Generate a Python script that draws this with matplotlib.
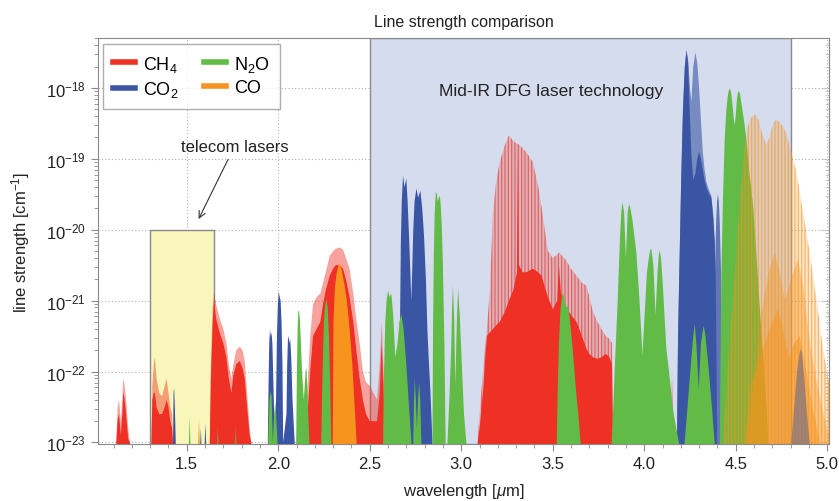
import numpy as np
import matplotlib
matplotlib.use("Agg")
import matplotlib.pyplot as plt
from matplotlib.lines import Line2D
from matplotlib.ticker import (FixedLocator, MultipleLocator, NullFormatter,
                               LogFormatterSciNotation)

plt.rcParams['font.family'] = ['Liberation Sans', 'DejaVu Sans']
plt.rcParams['mathtext.fontset'] = 'custom'
plt.rcParams['mathtext.rm'] = 'Liberation Sans'
plt.rcParams['mathtext.it'] = 'Liberation Sans:italic'
plt.rcParams['hatch.linewidth'] = 0.9

# band envelopes: wavelength [um] and log10(line strength)
# CH4 (hi = faint line tops, lo = dense core)
ch4_a_w = [1.115, 1.122, 1.13, 1.14, 1.148, 1.153, 1.158, 1.165, 1.172, 1.18, 1.19]
ch4_a_hi = [-23, -22.5, -22.4, -22.7, -22.4, -22.1, -22.15, -22.3, -22.5, -22.8, -23]
ch4_a_lo = [-23, -22.7, -22.6, -22.9, -22.6, -22.3, -22.35, -22.5, -22.7, -22.95, -23]
ch4_b_w = [1.307, 1.312, 1.32, 1.326, 1.335, 1.35, 1.365, 1.38, 1.39, 1.40, 1.41, 1.42, 1.425]
ch4_b_hi = [-23, -22.2, -21.9, -21.8, -22.1, -22.3, -22.35, -22.2, -22.1, -22.3, -22.5, -22.6, -23]
ch4_b_lo = [-23, -22.4, -22.3, -22.3, -22.5, -22.6, -22.6, -22.5, -22.4, -22.5, -22.7, -22.8, -23]
ch4_c_w = [1.626, 1.632, 1.642, 1.649, 1.66, 1.68, 1.70, 1.717, 1.73, 1.744, 1.755, 1.77,
           1.79, 1.805, 1.817, 1.83, 1.844, 1.853]
ch4_c_hi = [-23, -21.9, -21.1, -20.88, -21.05, -21.25, -21.4, -21.6, -21.9, -22.1, -21.9, -21.7,
            -21.65, -21.7, -21.85, -22.3, -22.8, -23]
ch4_c_lo = [-23, -22.1, -21.3, -21.0, -21.25, -21.45, -21.6, -21.8, -22.1, -22.3, -22.05, -21.9,
            -21.85, -21.95, -22.1, -22.5, -22.9, -23]
ch4_d_w = [2.145, 2.16, 2.175, 2.19, 2.21, 2.23, 2.245, 2.26, 2.281, 2.30, 2.314, 2.335, 2.354,
           2.37, 2.39, 2.41, 2.427, 2.445, 2.463, 2.48, 2.50, 2.52, 2.54, 2.555, 2.565, 2.575, 2.585]
ch4_d_hi = [-23, -22.2, -21.5, -21.05, -20.95, -20.9, -20.75, -20.6, -20.37, -20.3, -20.27, -20.25,
            -20.28, -20.4, -20.55, -20.9, -21.26, -21.6, -22.0, -22.15, -22.2, -22.3, -22.4, -21.9,
            -21.3, -21.9, -23]
ch4_d_lo = [-23, -22.6, -22.0, -21.5, -21.4, -21.3, -21.05, -20.85, -20.65, -20.55, -20.5, -20.5,
            -20.55, -20.7, -20.95, -21.3, -21.7, -22.1, -22.4, -22.6, -22.7, -22.7, -22.7, -22.3,
            -21.6, -22.2, -23]
ch4_e_w = [3.09, 3.10, 3.119, 3.14, 3.156, 3.174, 3.19, 3.21, 3.238, 3.261, 3.285, 3.305, 3.31,
           3.315, 3.335, 3.356, 3.392, 3.42, 3.44, 3.456, 3.474, 3.50, 3.525, 3.534, 3.545, 3.575,
           3.60, 3.63, 3.66, 3.684, 3.70, 3.72, 3.745, 3.766, 3.79, 3.81, 3.824, 3.83]
ch4_e_hi = [-23, -22.6, -22.0, -21.4, -20.88, -19.75, -19.35, -19.05, -18.81, -18.67, -18.75,
            -18.79, -18.79, -18.8, -18.85, -18.91, -19.05, -19.38, -19.7, -19.99, -20.3, -20.4,
            -20.35, -20.32, -20.35, -20.44, -20.55, -20.65, -20.75, -20.79, -20.95, -21.16, -21.3,
            -21.4, -21.5, -21.54, -21.6, -23]
ch4_e_lo = [-23, -22.8, -22.3, -21.5, -21.45, -21.4, -21.35, -21.3, -21.16, -21.0, -20.85, -20.6,
            -18.85, -20.5, -20.6, -20.6, -20.55, -20.6, -20.65, -20.8, -20.95, -21.12, -21.0, -20.5,
            -20.9, -21.1, -21.2, -21.3, -21.5, -21.68, -21.75, -21.8, -21.82, -21.8, -21.75, -21.8,
            -21.9, -23]
ch4_f_w = [4.148, 4.152, 4.156]
ch4_f_hi = [-23, -21.95, -23]
ch4_f_lo = [-23, -22.1, -23]

# CO2
co2_a_w = [1.425, 1.428, 1.431, 1.435, 1.44]
co2_a_s = [-23, -22.3, -22.23, -22.5, -23]
co2_b_w = [1.574, 1.577, 1.58]
co2_b_s = [-23, -22.8, -23]
co2_c_w = [1.598, 1.602, 1.606]
co2_c_s = [-23, -22.73, -23]
co2_d_w = [1.943, 1.947, 1.951, 1.955, 1.959, 1.963, 1.968, 1.974, 1.981, 1.988, 1.993, 1.998,
           2.003, 2.008, 2.013, 2.018, 2.023, 2.027, 2.045, 2.049, 2.053, 2.057, 2.062, 2.066,
           2.071, 2.078, 2.09]
co2_d_s = [-23, -22.2, -21.6, -21.4, -21.5, -21.45, -21.6, -22.2, -23, -22.4, -21.5, -21.05,
           -20.87, -20.95, -21.0, -21.3, -21.9, -23, -22.6, -21.9, -21.55, -21.5, -21.6, -21.55,
           -21.8, -22.4, -23]
co2_e_w = [2.660, 2.665, 2.670, 2.675, 2.682, 2.690, 2.700, 2.707, 2.715, 2.722, 2.727, 2.732,
           2.738, 2.745, 2.755, 2.765, 2.777, 2.787, 2.797, 2.807, 2.815, 2.822, 2.832, 2.843]
co2_e_s = [-23, -21.5, -20.2, -19.6, -19.24, -19.4, -19.28, -19.6, -20.1, -20.6, -21.0, -20.6,
           -20.0, -19.6, -19.42, -19.55, -19.45, -19.7, -20.1, -20.7, -21.4, -21.8, -22.3, -23]
co2_f_w = [4.179, 4.185, 4.195, 4.203, 4.212, 4.222, 4.231, 4.24, 4.25, 4.258, 4.268, 4.28,
           4.29, 4.30, 4.31, 4.32, 4.33, 4.34, 4.355, 4.367, 4.378, 4.386, 4.392, 4.398]
co2_f_hi = [-23, -21.5, -20.2, -19.2, -18.3, -17.7, -17.47, -17.6, -18.0, -18.2, -17.7, -17.5,
            -17.65, -18.0, -18.45, -18.9, -19.15, -19.33, -19.45, -19.52, -19.8, -20.2, -20.8, -23]
co2_f_lo = [-23, -21.5, -20.2, -19.2, -18.3, -17.7, -17.47, -17.65, -18.4, -18.95, -19.3, -19.2,
            -19.0, -18.9, -19.0, -19.15, -19.3, -19.4, -19.5, -19.55, -19.85, -20.2, -21.2, -23]
co2_g_w = [4.38, 4.387, 4.393, 4.398, 4.403, 4.408, 4.413, 4.42, 4.427]
co2_g_s = [-23, -20.6, -19.9, -19.6, -19.5, -19.6, -19.9, -20.6, -23]
co2_h_w = [4.804, 4.82, 4.835, 4.848, 4.855, 4.862, 4.875, 4.89, 4.904]
co2_h_s = [-23, -22.5, -22.0, -21.75, -21.68, -21.75, -22.1, -22.6, -23]

# N2O
n2o_a_w = [1.512, 1.516, 1.52]
n2o_a_s = [-23, -22.64, -23]
n2o_b_w = [1.667, 1.67, 1.673]
n2o_b_s = [-23, -22.77, -23]
n2o_c_w = [1.765, 1.768, 1.771]
n2o_c_s = [-23, -22.77, -23]
n2o_d_w = [1.945, 1.952, 1.958, 1.964, 1.97, 1.978, 1.983, 1.988, 1.996]
n2o_d_s = [-23, -22.4, -22.28, -22.35, -23, -22.6, -22.43, -22.6, -23]
n2o_e_w = [2.098, 2.102, 2.106, 2.110, 2.114, 2.118, 2.124, 2.13, 2.14, 2.147, 2.151, 2.155,
           2.16, 2.17]
n2o_e_s = [-23, -22.0, -21.4, -21.15, -21.14, -21.25, -21.6, -22.0, -22.4, -22.1, -21.98, -21.96,
           -22.3, -23]
n2o_f_w = [2.235, 2.242, 2.25, 2.257, 2.263, 2.27, 2.277, 2.284, 2.29]
n2o_f_s = [-23, -22.0, -21.3, -21.05, -20.98, -21.1, -21.5, -22.2, -23]
n2o_g_w = [2.573, 2.578, 2.585, 2.592, 2.60, 2.609, 2.618, 2.628, 2.64, 2.652, 2.662, 2.673,
           2.685, 2.70, 2.715, 2.728]
n2o_g_s = [-23, -22.0, -21.3, -21.0, -20.86, -20.95, -20.9, -21.2, -21.8, -21.6, -21.3, -21.19,
           -21.4, -21.9, -22.5, -23]
n2o_h_w = [2.738, 2.742, 2.746, 2.752, 2.758, 2.764, 2.77, 2.776, 2.782]
n2o_h_s = [-23, -22.4, -22.1, -22.4, -22.8, -22.4, -22.15, -22.4, -23]
n2o_i_w = [2.843, 2.846, 2.850, 2.855, 2.861, 2.867, 2.872, 2.878, 2.883, 2.888, 2.894, 2.90,
           2.908, 2.915]
n2o_i_s = [-23, -21.4, -20.4, -19.75, -19.47, -19.5, -19.6, -19.55, -19.52, -19.65, -19.95,
           -20.5, -21.6, -23]
n2o_j_w = [2.925, 2.935, 2.945, 2.950, 2.955, 2.962, 2.968, 2.976, 2.983, 2.992, 3.005, 3.015, 3.028]
n2o_j_s = [-23, -22.4, -21.7, -21.1, -20.79, -21.3, -22.2, -21.3, -20.83, -21.2, -22.0, -22.6, -23]
n2o_k_w = [3.522, 3.527, 3.534, 3.542, 3.55, 3.556, 3.565, 3.575, 3.584, 3.595, 3.61, 3.625,
           3.64, 3.652]
n2o_k_s = [-23, -22.3, -21.6, -21.15, -20.95, -20.88, -21.0, -21.1, -21.07, -21.3, -21.7, -22.2,
           -22.6, -23]
n2o_l_w = [3.822, 3.828, 3.84, 3.855, 3.868, 3.875, 3.881, 3.89, 3.90, 3.91, 3.915, 3.921, 3.935,
           3.957, 3.972, 3.985, 3.99, 4.0, 4.015, 4.028, 4.034, 4.039, 4.05, 4.062, 4.073, 4.08,
           4.085, 4.092, 4.10, 4.121, 4.14, 4.157, 4.175, 4.19]
n2o_l_s = [-23, -22.67, -21.9, -21.0, -20.1, -19.75, -19.61, -19.75, -20.4, -19.75, -19.67, -19.65,
           -19.85, -20.32, -20.9, -21.49, -21.78, -21.3, -20.6, -20.35, -20.28, -20.27, -20.5, -21.2,
           -20.6, -20.35, -20.29, -20.4, -20.7, -21.68, -22.1, -22.53, -22.8, -23]
n2o_m_w = [4.221, 4.24, 4.255, 4.268, 4.276, 4.285, 4.298, 4.31, 4.325, 4.335, 4.35, 4.37, 4.385]
n2o_m_s = [-23, -22.4, -21.9, -21.5, -21.33, -21.6, -22.25, -21.6, -21.35, -21.5, -21.9, -22.5, -23]
n2o_n_w = [4.413, 4.418, 4.422, 4.43, 4.44, 4.448, 4.455, 4.462, 4.467, 4.474, 4.481, 4.489,
           4.494, 4.50, 4.507, 4.512, 4.518, 4.525, 4.533, 4.545, 4.558, 4.575, 4.595, 4.612,
           4.631, 4.65, 4.668, 4.68]
n2o_n_s = [-23, -21.6, -20.6, -19.6, -18.72, -18.35, -18.15, -18.04, -18.01, -18.05, -18.2,
           -18.42, -18.53, -18.4, -18.15, -18.07, -18.04, -18.1, -18.25, -18.45, -18.72, -19.2,
           -19.66, -20.3, -21.07, -21.8, -22.48, -23]

# CO
co_a_w = [1.563, 1.567, 1.571]
co_a_s = [-23, -22.67, -23]
co_b_w = [2.298, 2.302, 2.31, 2.32, 2.332, 2.345, 2.36, 2.375, 2.39, 2.405, 2.418, 2.428]
co_b_s = [-23, -21.3, -20.8, -20.6, -20.48, -20.55, -20.75, -21.0, -21.4, -21.9, -22.5, -23]
co_c_w = [4.43, 4.46, 4.49, 4.52, 4.545, 4.565, 4.585, 4.604, 4.625, 4.645, 4.668, 4.69, 4.705,
          4.722, 4.745, 4.77, 4.795, 4.832, 4.868, 4.904, 4.941, 4.977, 5.013, 5.05]
co_c_s = [-23, -21.8, -20.8, -19.7, -18.9, -18.55, -18.42, -18.37, -18.45, -18.65, -18.81, -18.65,
          -18.5, -18.44, -18.5, -18.6, -18.81, -19.19, -19.75, -20.32, -20.98, -21.68, -22.2, -22.8]
co_d_w = [4.56, 4.60, 4.64, 4.68, 4.713, 4.74, 4.77, 4.80, 4.84, 4.87, 4.90, 4.94, 4.98, 5.02]
co_d_s = [-23, -22.2, -21.2, -20.6, -20.32, -20.6, -21.0, -20.7, -20.41, -20.8, -21.5, -22.1,
          -22.6, -23]
co_e_w = [4.55, 4.58, 4.62, 4.66, 4.70, 4.731, 4.76, 4.79, 4.82, 4.85, 4.88, 4.92, 4.96]
co_e_s = [-23, -22.2, -21.9, -21.6, -21.3, -21.12, -21.4, -21.8, -21.6, -21.5, -21.9, -22.5, -23]

names = ['CH$_4$', 'CO$_2$', 'N$_2$O', 'CO']
x_ticks = [1.5, 2.0, 2.5, 3.0, 3.5, 4.0, 4.5, 5.0]
x_labels = ['1.5', '2.0', '2.5', '3.0', '3.5', '4.0', '4.5', '5.0']
y_decades = [1e-23, 1e-22, 1e-21, 1e-20, 1e-19, 1e-18]
red, blue, green, orange = '#ee3124', '#3a55a4', '#62bb47', '#f7941d'

fig = plt.figure(figsize=(8.39, 5.02), dpi=100)
ax = fig.add_axes([0.1168, 0.1135, 0.8713, 0.8082])
ax.set_yscale('log')
ax.set_xlim(1.015, 5.01)
ax.set_ylim(9.5e-24, 5e-18)

ax.set_axisbelow(True)
ax.grid(True, which='major', linestyle=(0, (1, 2)), color='#b0b0b0', lw=0.8)
ax.axvspan(2.5, 4.8, facecolor='#d5dcee', edgecolor='#8a8a8a', lw=1.0, zorder=1)
ax.fill_between([1.30, 1.647], 1e-24, 1e-20, facecolor='#f8f6ba', edgecolor='#8a8a8a',
                lw=1.0, zorder=1)


def band(w, lg, color, alpha, z, hatch=None):
    s = 10.0 ** np.array(lg)
    if hatch:
        ax.fill_between(w, s, 1e-24, facecolor=(*matplotlib.colors.to_rgb(color), alpha),
                        edgecolor=(*matplotlib.colors.to_rgb(color), 0.6), hatch=hatch,
                        lw=0, zorder=z)
    else:
        ax.fill_between(w, s, 1e-24, facecolor=color, alpha=alpha, lw=0, zorder=z)


for w, hi, lo in [(ch4_a_w, ch4_a_hi, ch4_a_lo), (ch4_b_w, ch4_b_hi, ch4_b_lo),
                  (ch4_c_w, ch4_c_hi, ch4_c_lo), (ch4_d_w, ch4_d_hi, ch4_d_lo),
                  (ch4_f_w, ch4_f_hi, ch4_f_lo)]:
    band(w, hi, red, 0.45, 2)
    band(w, lo, red, 1.0, 2.1)
band(ch4_e_w, ch4_e_hi, red, 0.25, 2, hatch='|||||')
band(ch4_e_w, ch4_e_lo, red, 1.0, 2.1)

for w, s in [(co2_a_w, co2_a_s), (co2_b_w, co2_b_s), (co2_c_w, co2_c_s),
             (co2_d_w, co2_d_s), (co2_e_w, co2_e_s)]:
    band(w, s, blue, 1.0, 3)
band(co2_f_w, co2_f_hi, blue, 0.6, 3)
band(co2_f_w, co2_f_lo, blue, 1.0, 3.1)
band(co2_g_w, co2_g_s, blue, 0.75, 3)

for w, s in [(n2o_a_w, n2o_a_s), (n2o_b_w, n2o_b_s), (n2o_c_w, n2o_c_s), (n2o_d_w, n2o_d_s),
             (n2o_e_w, n2o_e_s), (n2o_f_w, n2o_f_s), (n2o_g_w, n2o_g_s), (n2o_h_w, n2o_h_s),
             (n2o_i_w, n2o_i_s), (n2o_j_w, n2o_j_s), (n2o_k_w, n2o_k_s), (n2o_l_w, n2o_l_s),
             (n2o_m_w, n2o_m_s), (n2o_n_w, n2o_n_s)]:
    band(w, s, green, 1.0, 4)

band(co_a_w, co_a_s, orange, 1.0, 5)
band(co_b_w, co_b_s, orange, 1.0, 5)
band(co_c_w, co_c_s, orange, 0.22, 5, hatch='|||||')
band(co_d_w, co_d_s, orange, 0.4, 5.1)
band(co_e_w, co_e_s, orange, 0.5, 5.2)
band(co2_h_w, co2_h_s, blue, 0.45, 6)

# axes styling
y_minor = [m * d for d in [1e-24] + y_decades for m in range(2, 10)]
y_minor = [v for v in y_minor if 9.5e-24 <= v <= 5e-18]
for sp in ax.spines.values():
    sp.set_color('#8a8a8a')
ax.xaxis.set_major_locator(FixedLocator(x_ticks))
ax.xaxis.set_minor_locator(MultipleLocator(0.1))
ax.yaxis.set_major_locator(FixedLocator(y_decades))
ax.yaxis.set_minor_locator(FixedLocator(y_minor))
ax.yaxis.set_major_formatter(LogFormatterSciNotation())
ax.yaxis.set_minor_formatter(NullFormatter())
ax.tick_params(which='both', direction='out', color='#8a8a8a', labelsize=12, labelcolor='#222222')
ax.tick_params(which='major', length=5, width=0.8)
ax.tick_params(which='minor', length=3, width=0.6)
ax.set_xticklabels(x_labels)

# faint inward ticks along the right edge
sec = ax.secondary_yaxis('right')
sec.yaxis.set_major_locator(FixedLocator(y_decades))
sec.yaxis.set_minor_locator(FixedLocator(y_minor))
sec.yaxis.set_major_formatter(NullFormatter())
sec.yaxis.set_minor_formatter(NullFormatter())
sec.tick_params(which='both', direction='in', color='#c8c8c8', width=0.6)
sec.tick_params(which='major', length=5)
sec.tick_params(which='minor', length=3)
sec.spines['right'].set_color('#8a8a8a')

ax.set_xlabel('wavelength [$\\mu$m]', fontsize=12, color='#222222', labelpad=7)
ax.set_ylabel('line strength [cm$^{-1}$]', fontsize=12, color='#222222', labelpad=10)
ax.set_title('Line strength comparison', fontsize=11.5, color='#222222', pad=9)

ax.text(3.49, 10 ** -18.04, 'Mid-IR DFG laser technology', ha='center', va='center',
        fontsize=12.5, color='#222222', zorder=7)
ax.annotate('telecom lasers', xy=(1.565, 10 ** -19.85), xytext=(1.76, 10 ** -18.83),
            ha='center', va='center', fontsize=12, color='#222222', zorder=7,
            arrowprops=dict(arrowstyle='->', color='#333333', lw=0.8, shrinkA=2, shrinkB=0))

handles = [Line2D([], [], color=c, lw=4) for c in [red, blue, green, orange]]
leg = ax.legend(handles, names, loc='upper left', ncol=2, fontsize=13, frameon=True,
                fancybox=False, edgecolor='#9a9a9a', handlelength=1.2, columnspacing=1.4,
                borderaxespad=0.3, borderpad=0.55, handletextpad=0.45, labelspacing=0.3)
leg.get_frame().set_linewidth(1.0)
leg.set_zorder(8)

fig.savefig('out.png', dpi=100)
